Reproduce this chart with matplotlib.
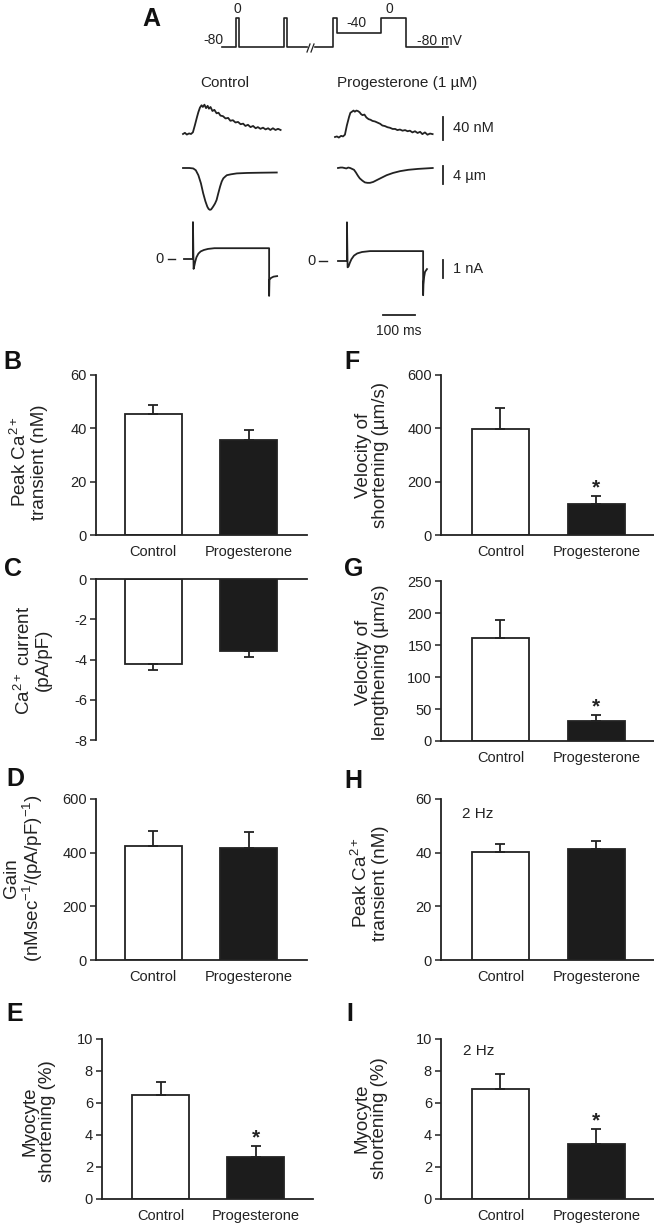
import numpy as np
import matplotlib
matplotlib.use('Agg')
import matplotlib.pyplot as plt

plt.rcParams['font.family'] = ['Liberation Sans', 'DejaVu Sans']
plt.rcParams['mathtext.fontset'] = 'custom'
plt.rcParams['mathtext.rm'] = 'Liberation Sans'
plt.rcParams['mathtext.it'] = 'Liberation Sans:italic'
plt.rcParams['mathtext.bf'] = 'Liberation Sans:bold'
plt.rcParams['axes.unicode_minus'] = False

ink = '#222222'
bar_black = '#1c1c1c'

# ---- bar chart data (mean, SEM) ----
categories = ['Control', 'Progesterone']
peak_ca = [45.3, 35.5]
peak_ca_err = [3.6, 3.9]
ca_current = [-4.2, -3.6]
ca_current_err = [0.34, 0.29]
gain = [425, 417]
gain_err = [56, 61]
shortening = [6.5, 2.6]
shortening_err = [0.82, 0.69]
vel_short = [399, 118]
vel_short_err = [76, 27]
vel_length = [161, 31]
vel_length_err = [28, 9.4]
peak_ca_2hz = [40.1, 41.3]
peak_ca_2hz_err = [3.0, 3.2]
shortening_2hz = [6.87, 3.42]
shortening_2hz_err = [0.94, 0.96]

# ---- panel A traces (time in ms) ----
ca_t = [0, 6, 12, 19, 25, 31, 37, 44, 48, 53, 58, 62, 67, 72, 77, 81, 86, 92, 98, 105,
        111, 117, 125, 133, 141, 148, 156, 164, 172, 180, 188, 195, 203, 211, 219, 227,
        234, 242, 250, 258, 266, 273, 281, 289, 297, 305]
ca_ctrl = [0, 2, -1, 1, 0, 3, 15, 30, 38, 46, 50, 47, 51, 45, 49, 44, 47, 40, 42, 36,
           37, 32, 31, 27, 28, 23, 24, 20, 21, 17, 18, 14, 16, 12, 14, 10,
           12, 9, 11, 8, 10, 7, 10, 7, 9, 7]  # nM
ca_prog = [0, 1, -1, 2, 1, 4, 20, 35, 42, 44, 46, 44, 46, 45, 43, 40, 38, 39, 34, 31,
           30, 28, 27, 25, 23, 20, 19, 17, 16, 14, 14, 12, 13, 11, 12, 10,
           11, 8, 10, 7, 9, 5, 8, 4, 6, 5]  # nM

len_ctrl_t = [0, 20, 32, 40, 48, 56, 63, 70, 76, 80, 84, 88, 94, 100, 105, 110, 116,
              121, 126, 132, 137, 150, 168, 200, 240, 293]
len_ctrl = [0, 0, -0.1, -0.5, -1.6, -3.4, -5.6, -7.4, -8.6, -9.1, -9.3, -9.2, -8.6,
            -7.9, -7.1, -5.7, -4.1, -3.0, -2.3, -1.9, -1.6, -1.4, -1.2, -1.1, -1.05, -1.0]  # um
len_prog_t = [0, 8, 14, 20, 26, 32, 38, 44, 50, 56, 62, 68, 76, 84, 92, 100, 110, 121,
              135, 152, 172, 194, 220, 250, 296]
len_prog = [0, 0.1, 0.1, 0, -0.1, 0.1, 0, -0.2, -0.4, -1.0, -1.7, -2.3, -2.8, -3.2,
            -3.3, -3.3, -3.1, -2.7, -2.2, -1.6, -1.1, -0.7, -0.4, -0.2, 0]  # um

cur_ctrl_t = [0, 28, 28, 30, 32, 35, 39, 45, 52, 62, 75, 95, 266, 266, 267, 272, 280, 291]
cur_ctrl = [0, 0, 2.05, -0.55, -0.4, -0.15, 0.1, 0.3, 0.42, 0.5, 0.56, 0.6, 0.6,
            -2.05, -1.15, -1.05, -0.98, -0.95]  # nA
cur_prog_t = [0, 28, 28, 30, 33, 37, 42, 50, 60, 75, 100, 266, 266, 267, 269, 272, 278]
cur_prog = [0, 0, 2.15, -0.35, -0.3, -0.1, 0.1, 0.3, 0.42, 0.5, 0.55, 0.55, -1.9,
            -1.3, -0.9, -0.6, -0.45]  # nA

# voltage protocol: conditioning pulses, then test pulse
prot1_t = [0, 44, 44, 53, 53, 194, 194, 203, 203, 266]
prot1_v = [-80, -80, 0, 0, -80, -80, 0, 0, -80, -80]
prot2_t = [0, 56, 56, 69, 69, 206, 206, 284, 284, 416]
prot2_v = [-80, -80, 0, 0, -40, -40, 0, 0, -80, -80]

W, H = 654, 1228
fig = plt.figure(figsize=(W / 100, H / 100), dpi=100)

# overlay axes in pixel units, used for panel A and text
ax0 = fig.add_axes([0, 0, 1, 1])
ax0.set_xlim(0, W)
ax0.set_ylim(H, 0)
ax0.axis('off')

PX_MS = 0.32  # 32 px = 100 ms


def trace(t, v, x0, y0, px_per_unit):
    ax0.plot(x0 + np.asarray(t) * PX_MS, y0 - np.asarray(v) * px_per_unit,
             color=ink, lw=1.3, solid_joinstyle='round')


# protocol
mv_px = 29 / 80
ax0.plot(222 + np.asarray(prot1_t) * PX_MS, 47 - (np.asarray(prot1_v) + 80) * mv_px, color=ink, lw=1.2)
ax0.plot(315 + np.asarray(prot2_t) * PX_MS, 47 - (np.asarray(prot2_v) + 80) * mv_px, color=ink, lw=1.2)
ax0.plot([307, 310], [52, 44], color=ink, lw=0.9)
ax0.plot([311, 314], [52, 44], color=ink, lw=0.9)
ax0.text(237, 9, '0', ha='center', va='center', fontsize=10, color=ink)
ax0.text(213, 40, '-80', ha='center', va='center', fontsize=10, color=ink)
ax0.text(356, 23, '-40', ha='center', va='center', fontsize=10, color=ink)
ax0.text(389, 9, '0', ha='center', va='center', fontsize=10, color=ink)
ax0.text(439, 41, '-80 mV', ha='center', va='center', fontsize=10, color=ink)

ax0.text(225, 83, 'Control', ha='center', va='center', fontsize=11, color=ink)
ax0.text(407, 83, 'Progesterone (1 µM)', ha='center', va='center', fontsize=11, color=ink)

# traces
nm_px = 23 / 40
um_px = 18 / 4
na_px = 18
trace(ca_t, ca_ctrl, 183, 134, nm_px)
trace(ca_t, ca_prog, 335, 137, nm_px)
trace(len_ctrl_t, len_ctrl, 183, 168, um_px)
trace(len_prog_t, len_prog, 338, 168, um_px)
trace(cur_ctrl_t, cur_ctrl, 184, 259, na_px)
trace(cur_prog_t, cur_prog, 338, 261, na_px)

# zero current markers
ax0.plot([168, 175], [259, 259], color=ink, lw=1.0)
ax0.text(159, 259, '0', ha='center', va='center', fontsize=10.5, color=ink)
ax0.plot([319, 327], [261, 261], color=ink, lw=1.0)
ax0.text(312, 261, '0', ha='center', va='center', fontsize=10.5, color=ink)

# scale bars
ax0.plot([443, 443], [117, 117 + 40 * nm_px], color=ink, lw=1.3)
ax0.text(453, 128, '40 nM', ha='left', va='center', fontsize=10.5, color=ink)
ax0.plot([443, 443], [166, 166 + 4 * um_px], color=ink, lw=1.3)
ax0.text(453, 176, '4 µm', ha='left', va='center', fontsize=10.5, color=ink)
ax0.plot([443, 443], [260, 260 + 1 * na_px], color=ink, lw=1.3)
ax0.text(453, 269, '1 nA', ha='left', va='center', fontsize=10.5, color=ink)
ax0.plot([383, 383 + 100 * PX_MS], [315, 315], color=ink, lw=1.3)
ax0.text(399, 331, '100 ms', ha='center', va='center', fontsize=10, color=ink)


def px_axes(left, right, top, bottom):
    ax = fig.add_axes([left / W, 1 - bottom / H, (right - left) / W, (bottom - top) / H])
    ax.set_facecolor('none')
    return ax


def bar_panel(rect, vals, errs, ylim, yticks, xlim, star=False, xlabels=True, negative=False):
    ax = px_axes(*rect)
    x = np.arange(len(categories))
    ax.bar(x, vals, width=0.6, color=['white', bar_black], edgecolor=ink, linewidth=1.3, zorder=2)
    yerr = [errs, [0, 0]] if negative else [[0, 0], errs]
    ax.errorbar(x, vals, yerr=yerr, fmt='none', ecolor=ink, elinewidth=1.3,
                capsize=3.5, capthick=1.3, zorder=3)
    ax.set_xlim(*xlim)
    ax.set_ylim(*ylim)
    ax.set_yticks(yticks)
    ax.spines['right'].set_visible(False)
    if negative:
        ax.spines['bottom'].set_visible(False)
        ax.spines['top'].set_color(ink)
        ax.spines['top'].set_linewidth(1.3)
    else:
        ax.spines['top'].set_visible(False)
        ax.spines['bottom'].set_color(ink)
        ax.spines['bottom'].set_linewidth(1.3)
    ax.spines['left'].set_color(ink)
    ax.spines['left'].set_linewidth(1.3)
    ax.tick_params(axis='y', direction='out', length=4.5, width=1.1, pad=2,
                   labelsize=10.5, colors=ink)
    ax.set_xticks(x)
    if xlabels:
        ax.set_xticklabels(categories)
    else:
        ax.set_xticklabels([])
    ax.tick_params(axis='x', length=0, pad=7, labelsize=10.5, colors=ink)
    if star:
        ax.annotate('*', xy=(1, vals[1] + errs[1]), xytext=(0, 2), textcoords='offset points',
                    ha='center', va='baseline', fontsize=15, fontweight='bold', color=ink)
    return ax


left_x = (-0.6, 1.61)
right_x = (-0.62, 1.6)
bar_panel((96, 307, 375, 535), peak_ca, peak_ca_err, (0, 60), [0, 20, 40, 60], left_x)
bar_panel((96, 307, 579, 740), ca_current, ca_current_err, (-8, 0), [0, -2, -4, -6, -8], left_x,
          xlabels=False, negative=True)
bar_panel((96, 307, 799, 960), gain, gain_err, (0, 600), [0, 200, 400, 600], left_x)
bar_panel((102, 313, 1039, 1199), shortening, shortening_err, (0, 10), [0, 2, 4, 6, 8, 10],
          right_x, star=True)
bar_panel((441, 654, 375, 535), vel_short, vel_short_err, (0, 600), [0, 200, 400, 600],
          right_x, star=True)
bar_panel((441, 654, 581, 741), vel_length, vel_length_err, (0, 250), [0, 50, 100, 150, 200, 250],
          right_x, star=True)
bar_panel((441, 654, 799, 960), peak_ca_2hz, peak_ca_2hz_err, (0, 60), [0, 20, 40, 60], right_x)
bar_panel((441, 654, 1039, 1199), shortening_2hz, shortening_2hz_err, (0, 10), [0, 2, 4, 6, 8, 10],
          right_x, star=True)

# y labels
ylabels = [
    (29, 462, 'Peak Ca$^{2+}$\ntransient (nM)'),
    (33, 660, 'Ca$^{2+}$ current\n(pA/pF)'),
    (24, 878, 'Gain\n(nMsec$^{-1}$/(pA/pF)$^{-1}$)'),
    (39, 1121, 'Myocyte\nshortening (%)'),
    (372, 455, 'Velocity of\nshortening (µm/s)'),
    (372, 662, 'Velocity of\nlengthening (µm/s)'),
    (370, 883, 'Peak Ca$^{2+}$\ntransient (nM)'),
    (371, 1118, 'Myocyte\nshortening (%)'),
]
for lx, ly, txt in ylabels:
    ax0.text(lx, ly, txt, rotation=90, ha='center', va='center', multialignment='center',
             fontsize=13.5, color=ink, linespacing=1.05)

ax0.text(478, 814, '2 Hz', ha='center', va='center', fontsize=11, color=ink)
ax0.text(479, 1051, '2 Hz', ha='center', va='center', fontsize=11, color=ink)

# panel letters
letters = [('A', 142, 26), ('B', 3, 369), ('C', 4, 576), ('D', 6, 786), ('E', 6, 1021),
           ('F', 344, 369), ('G', 344, 576), ('H', 344, 788), ('I', 346, 1021)]
for s, lx, ly in letters:
    ax0.text(lx, ly, s, ha='left', va='baseline', fontsize=18, fontweight='bold', color='#111111')

fig.savefig('out.png', dpi=100)
